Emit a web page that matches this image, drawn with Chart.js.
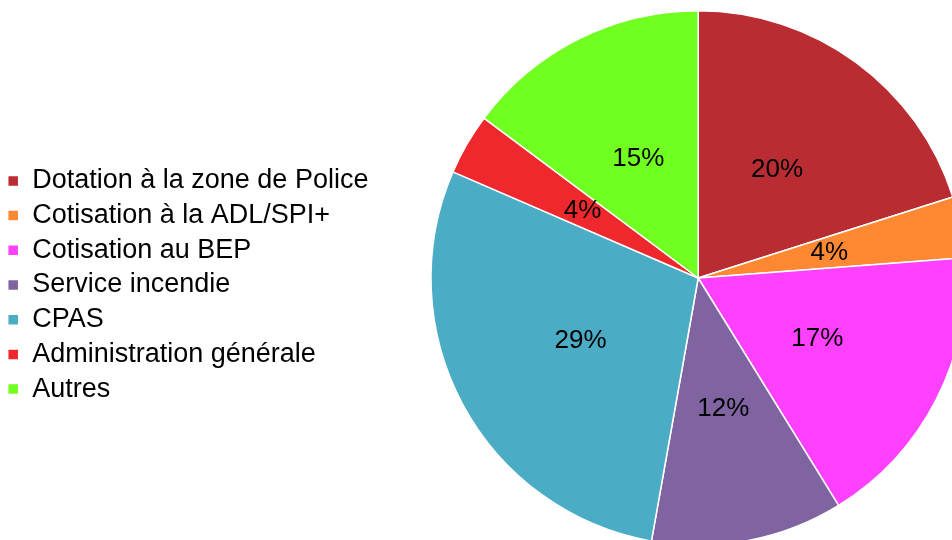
<!DOCTYPE html>
<html lang="fr">
<head>
    <meta charset="UTF-8">
    <title>Répartition des dépenses</title>
    <script src="https://cdn.jsdelivr.net/npm/chart.js"></script>
    <style>
        html, body {
            margin: 0;
            padding: 0;
            background: #fff;
        }

        .wrap {
            position: relative;
            width: 952px;
            height: 540px;
            overflow: hidden;
        }

        #pieChart {
            position: absolute;
            left: 0;
            top: 0;
        }
    </style>
</head>
<body>
    <div class="wrap">
        <canvas id="pieChart" width="1034" height="560"></canvas>
    </div>

    <script>
        // données (parts en %)
        const categories = [
            'Dotation à la zone de Police',
            'Cotisation à la ADL/SPI+',
            'Cotisation au BEP',
            'Service incendie',
            'CPAS',
            'Administration générale',
            'Autres'
        ];
        const shares = [20.1, 3.7, 17.4, 11.6, 28.7, 3.7, 14.8];
        const sliceColors = ['#B92D32', '#FF8833', '#FF40FF', '#8064A2', '#4BACC6', '#EE282C', '#70FF20'];

        const fontFamily = '"Liberation Sans", Arial, sans-serif';

        // étiquettes % au centre de chaque part
        const percentLabels = {
            id: 'percentLabels',
            afterDatasetsDraw(chart) {
                const ctx = chart.ctx;
                const meta = chart.getDatasetMeta(0);
                ctx.save();
                ctx.font = '26px ' + fontFamily;
                ctx.fillStyle = '#000';
                ctx.textAlign = 'center';
                ctx.textBaseline = 'middle';
                meta.data.forEach((arc, i) => {
                    const pos = arc.tooltipPosition();
                    ctx.fillText(Math.round(shares[i]) + '%', pos.x, pos.y);
                });
                ctx.restore();
            }
        };

        const ctx = document.getElementById('pieChart').getContext('2d');
        new Chart(ctx, {
            type: 'pie',
            data: {
                labels: categories,
                datasets: [{
                    data: shares,
                    backgroundColor: sliceColors,
                    borderColor: '#fff',
                    borderWidth: 1.5,
                    hoverOffset: 0
                }]
            },
            options: {
                responsive: false,
                animation: false,
                layout: {
                    padding: { left: 0, top: 10, right: 16, bottom: 14 }
                },
                plugins: {
                    legend: {
                        position: 'left',
                        align: 'center',
                        title: {
                            display: true,
                            text: '',
                            font: { size: 10 },
                            padding: { top: 2, bottom: 0 }
                        },
                        labels: {
                            boxWidth: 11,
                            boxHeight: 11,
                            padding: 7.7,
                            color: '#000',
                            font: { family: fontFamily, size: 27 }
                        }
                    },
                    tooltip: { enabled: false }
                }
            },
            plugins: [percentLabels]
        });
    </script>
</body>
</html>
